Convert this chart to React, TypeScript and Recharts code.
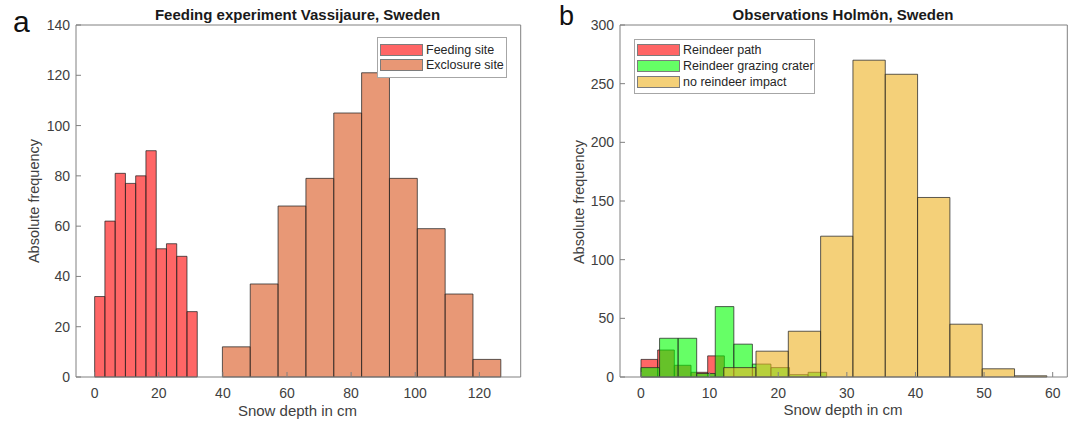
import React from 'react';
import { ComposedChart, XAxis, YAxis, ReferenceArea, Scatter } from 'recharts';

// panel a: Vassijaure feeding experiment (histogram bins)
const feedingStart = 0;
const feedingWidth = 3.2;
const feedingCounts = [32, 62, 81, 77, 80, 90, 51, 53, 48, 26];
const exclosureStart = 39.85;
const exclosureWidth = 8.685;
const exclosureCounts = [12, 37, 68, 79, 105, 121, 79, 59, 33, 7];
const xTicksA = [0, 20, 40, 60, 80, 100, 120];
const yTicksA = [0, 20, 40, 60, 80, 100, 120, 140];

// panel b: Holmön observations
const pathStart = 0;
const pathWidth = 2.43;
const pathCounts = [15, 23, 10, 4, 18];
const craterStart = 0;
const craterWidth = 2.706;
const craterCounts = [8, 33, 33, 3, 60, 28, 11, 8, 2, 4];
const noImpactStart = 12.05;
const noImpactWidth = 4.71;
const noImpactCounts = [8, 22, 39, 120, 270, 258, 153, 45, 7, 1];
const xTicksB = [0, 10, 20, 30, 40, 50, 60];
const yTicksB = [0, 50, 100, 150, 200, 250, 300];

type Hist = { name: string; color: string; start: number; width: number; counts: number[] };

const histA: Hist[] = [
  { name: 'Feeding site', color: '#ff0000', start: feedingStart, width: feedingWidth, counts: feedingCounts },
  { name: 'Exclosure site', color: '#d9531a', start: exclosureStart, width: exclosureWidth, counts: exclosureCounts },
];
const histB: Hist[] = [
  { name: 'Reindeer path', color: '#ff0000', start: pathStart, width: pathWidth, counts: pathCounts },
  { name: 'Reindeer grazing crater', color: '#00ff00', start: craterStart, width: craterWidth, counts: craterCounts },
  { name: 'no reindeer impact', color: '#edb120', start: noImpactStart, width: noImpactWidth, counts: noImpactCounts },
];

const AXIS = '#808080';
const TICK = { fill: '#404040', fontSize: 14 };

// bin tops, so the chart has real data behind its axes
const binTops = (h: Hist) => h.counts.map((c, i) => ({ x: h.start + (i + 0.5) * h.width, y: c }));

function bins(h: Hist) {
  return h.counts
    .map((c, i) =>
      c > 0 ? (
        <ReferenceArea
          key={`${h.name}-${i}`}
          x1={h.start + i * h.width}
          x2={h.start + (i + 1) * h.width}
          y1={0}
          y2={c}
          fill={h.color}
          fillOpacity={0.6}
          stroke="#262626"
          strokeOpacity={0.75}
          strokeWidth={1}
          ifOverflow="visible"
        />
      ) : null
    )
    .filter(Boolean);
}

type PanelProps = {
  left: number;
  width: number;
  plotLeft: number;
  plotRight: number;
  xDomain: [number, number];
  yDomain: [number, number];
  xTicks: number[];
  yTicks: number[];
  hists: Hist[];
};

const Panel: React.FC<PanelProps> = ({ left, width, plotLeft, plotRight, xDomain, yDomain, xTicks, yTicks, hists }) => (
  <div style={{ position: 'absolute', left, top: 0 }}>
    <ComposedChart
      width={width}
      height={422}
      margin={{ top: 24, right: width - plotRight - 1, bottom: 422 - 377 - 30, left: plotLeft - 40 }}
    >
      <XAxis xAxisId={0} dataKey="x" type="number" domain={xDomain} ticks={xTicks} allowDataOverflow interval={0}
        tickSize={-5} tickMargin={16} stroke={AXIS} tick={TICK} height={30} />
      <XAxis xAxisId="top" dataKey="x" orientation="top" type="number" domain={xDomain} ticks={xTicks} allowDataOverflow
        interval={0} tickSize={-5} tick={false} height={1} stroke={AXIS} />
      <YAxis yAxisId={0} dataKey="y" type="number" domain={yDomain} ticks={yTicks} allowDataOverflow interval={0}
        tickSize={-5} tickMargin={11} stroke={AXIS} tick={TICK} width={40} />
      <YAxis yAxisId="right" dataKey="y" orientation="right" type="number" domain={yDomain} ticks={yTicks} allowDataOverflow
        interval={0} tickSize={-5} tick={false} width={1} stroke={AXIS} />
      {hists.map(h => bins(h))}
      {hists.map(h => (
        <Scatter key={h.name} name={h.name} data={binTops(h)} dataKey="y" shape={() => <g />} isAnimationActive={false} />
      ))}
      <Scatter xAxisId="top" yAxisId="right" data={binTops(hists[0])} dataKey="y" shape={() => <g />} isAnimationActive={false} />
    </ComposedChart>
  </div>
);

const LegendBox: React.FC<{ items: Hist[]; left: number; top: number; width: number; pitch: number; pad: number }> = ({
  items, left, top, width, pitch, pad,
}) => (
  <div style={{
    position: 'absolute', left, top, width, height: pad * 2 + pitch * items.length - 3,
    border: '1px solid #a6a6a6', background: '#fff', boxSizing: 'border-box',
  }}>
    {items.map((it, i) => (
      <div key={it.name} style={{ position: 'absolute', left: 2, top: pad - 1 + i * pitch, display: 'flex', alignItems: 'center' }}>
        <span style={{
          display: 'inline-block', width: 43, height: 12, boxSizing: 'border-box',
          background: it.color, opacity: 0.6, border: '1px solid #262626', marginRight: 3,
        }} />
        <span style={{ fontSize: 12.5, color: '#262626', lineHeight: '12px' }}>{it.name}</span>
      </div>
    ))}
  </div>
);

const textBase: React.CSSProperties = { position: 'absolute', color: '#262626', whiteSpace: 'nowrap' };

const App: React.FC = () => (
  <div style={{
    position: 'absolute', left: 0, top: 0, width: 1077, height: 422, background: '#fff',
    fontFamily: 'Arial, "Liberation Sans", sans-serif', overflow: 'hidden',
  }}>
    <Panel left={0} width={540} plotLeft={76} plotRight={520.7} xDomain={[-5.82, 132.9]} yDomain={[0, 140]}
      xTicks={xTicksA} yTicks={yTicksA} hists={histA} />
    <Panel left={540} width={537} plotLeft={80} plotRight={527.3} xDomain={[-3.06, 62.13]} yDomain={[0, 300]}
      xTicks={xTicksB} yTicks={yTicksB} hists={histB} />

    <LegendBox items={histA} left={377} top={37} width={130} pitch={15} pad={7} />
    <LegendBox items={histB} left={634} top={39} width={181} pitch={16} pad={5} />

    <div style={{ ...textBase, left: 13, top: 10, fontSize: 30, lineHeight: '24px', color: '#111' }}>a</div>
    <div style={{ ...textBase, left: 559, top: 2, fontSize: 27, lineHeight: '28px', color: '#111' }}>b</div>

    <div style={{ ...textBase, left: 97.5, width: 400, top: 6, textAlign: 'center', fontSize: 15, fontWeight: 'bold', color: '#1a1a1a' }}>
      Feeding experiment Vassijaure, Sweden
    </div>
    <div style={{ ...textBase, left: 643, width: 400, top: 6, textAlign: 'center', fontSize: 15, fontWeight: 'bold', color: '#1a1a1a' }}>
      Observations Holmön, Sweden
    </div>

    <div style={{ ...textBase, left: 197.5, width: 200, top: 402, textAlign: 'center', fontSize: 15, color: '#404040' }}>
      Snow depth in cm
    </div>
    <div style={{ ...textBase, left: 743, width: 200, top: 401, textAlign: 'center', fontSize: 15, color: '#404040' }}>
      Snow depth in cm
    </div>

    <div style={{ ...textBase, left: 34 - 100, width: 200, top: 202 - 9, textAlign: 'center', fontSize: 14.5, color: '#404040', transform: 'rotate(-90deg)' }}>
      Absolute frequency
    </div>
    <div style={{ ...textBase, left: 579 - 100, width: 200, top: 203 - 9, textAlign: 'center', fontSize: 14.5, color: '#404040', transform: 'rotate(-90deg)' }}>
      Absolute frequency
    </div>
  </div>
);

export default App;
